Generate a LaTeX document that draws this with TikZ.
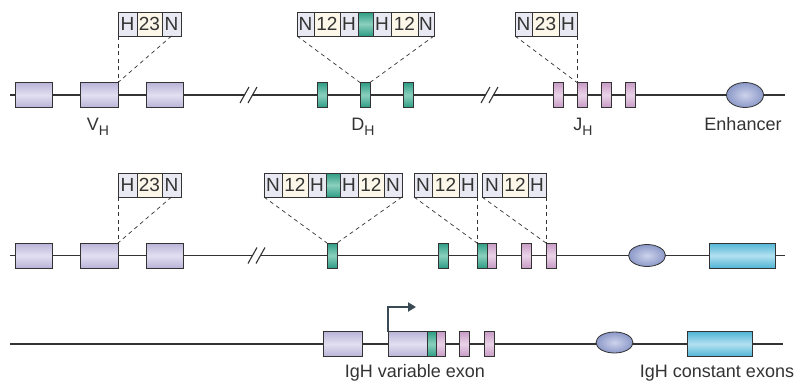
\documentclass[tikz,border=0pt]{standalone}
\usepackage{fontspec}
\setmainfont{Liberation Sans}
\usetikzlibrary{arrows.meta,shapes.geometric}
\definecolor{linec}{HTML}{333333}
\definecolor{vcol}{HTML}{B9B4D8}
\definecolor{vlight}{HTML}{E2DFF1}
\definecolor{dcol}{HTML}{2E9C84}
\definecolor{dlight}{HTML}{8AD0BE}
\definecolor{jcol}{HTML}{C79BC5}
\definecolor{jlight}{HTML}{EAD3E8}
\definecolor{ecol}{HTML}{8C99C8}
\definecolor{elight}{HTML}{CDD3EC}
\definecolor{ccol}{HTML}{4FB5D6}
\definecolor{clight}{HTML}{B3E0F0}
\definecolor{cellhn}{HTML}{E9E9F3}
\definecolor{cellnum}{HTML}{FCF7E8}
\definecolor{arrowc}{HTML}{3A4A55}
\definecolor{textc}{HTML}{333333}
\newcommand\brkmark[1]{\begin{scope}[shift={#1}]
 \fill[white] (-7.3,2.2)--(-4.7,-2.2)--(2.3,-2.2)--(-0.3,2.2)--cycle;
 \draw[dna] (-11,8)--(-2,-8); \draw[dna] (-3,8)--(6,-8);
 \end{scope}}
\tikzset{
 dna/.style={draw=linec, line width=1.1pt},
 seg/.style={draw=linec, line width=0.8pt, inner sep=0pt, outer sep=0pt, minimum height=25pt},
 vseg/.style={seg, top color=vcol, bottom color=vcol, middle color=vlight},
 dseg/.style={seg, top color=dcol, bottom color=dcol, middle color=dlight},
 jseg/.style={seg, top color=jcol, bottom color=jcol, middle color=jlight},
 cseg/.style={seg, top color=ccol, bottom color=ccol, middle color=clight},
 enh/.style={ellipse, draw=linec, line width=0.8pt, inner color=elight, outer color=ecol, inner sep=0pt, minimum width=37pt, minimum height=25pt},
 cell/.style={draw=linec, line width=0.7pt, inner sep=0pt, outer sep=0pt, minimum height=24pt, anchor=west, text=textc, font=\fontsize{19}{19}\selectfont},
 hn/.style={cell, fill=cellhn},
 num/.style={cell, fill=cellnum},
 tcell/.style={cell, top color=dcol, bottom color=dcol, middle color=dlight},
 lead/.style={draw=linec, line width=0.7pt, dash pattern=on 4pt off 3.5pt},
 lab/.style={text=textc, font=\fontsize{18}{20}\selectfont, inner sep=0pt},
}
\newcommand\subH{\raisebox{-0.5ex}{\fontsize{14}{14}\selectfont H}}
\begin{document}
\begin{tikzpicture}[x=1pt,y=-1pt]
\useasboundingbox (0,0) rectangle (796,383);
% ---------- Row 1 ----------
\coordinate (l1s) at (10,95);
\coordinate (l1e) at (785,95);
\draw[dna] (l1s) -- (l1e);
\brkmark{(251,95)}
\brkmark{(492,95)}
\node[vseg, minimum width=37pt] (v11) at (33.5,95) {};
\node[vseg, minimum width=38pt] (v12) at (99,95) {};
\node[vseg, minimum width=37pt] (v13) at (164.5,95) {};
\node[dseg, minimum width=10pt] (d11) at (322,95) {};
\node[dseg, minimum width=10pt] (d12) at (365,95) {};
\node[dseg, minimum width=10pt] (d13) at (408,95) {};
\node[jseg, minimum width=10pt] (j11) at (558,95) {};
\node[jseg, minimum width=10pt] (j12) at (582,95) {};
\node[jseg, minimum width=10pt] (j13) at (606,95) {};
\node[jseg, minimum width=10pt] (j14) at (630,95) {};
\node[enh] (e1) at (745,95) {};
\node[lab] (lv1) at (98,127) {V\subH};
\node[lab] (ld1) at (363,127) {D\subH};
\node[lab] (lj1) at (583,127) {J\subH};
\node[lab] (le1) at (743,124) {Enhancer};
% RSS boxes row 1
\node[hn, minimum width=19pt] (a1) at (118,24) {H};
\node[num, minimum width=25pt] (a2) at (a1.east) {23};
\node[hn, minimum width=19pt] (a3) at (a2.east) {N};
\draw[lead] (a1.south west) -- (v12.north east);
\draw[lead] (a3.south) -- (v12.north east);
\node[hn, minimum width=17pt] (b1) at (297,24) {N};
\node[num, minimum width=26pt] (b2) at (b1.east) {12};
\node[hn, minimum width=18pt] (b3) at (b2.east) {H};
\node[tcell, minimum width=15pt] (b4) at (b3.east) {};
\node[hn, minimum width=18pt] (b5) at (b4.east) {H};
\node[num, minimum width=27pt] (b6) at (b5.east) {12};
\node[hn, minimum width=16pt] (b7) at (b6.east) {N};
\draw[lead] (b1.south west) -- (d12.north west);
\draw[lead] (b7.south east) -- (d12.north east);
\node[hn, minimum width=17pt] (c1) at (515,24) {N};
\node[num, minimum width=27pt] (c2) at (c1.east) {23};
\node[hn, minimum width=18pt] (c3) at (c2.east) {H};
\draw[lead] (c1.south west) -- (j12.north west);
\draw[lead] (c3.south east) -- (j12.north west);
% ---------- Row 2 ----------
\coordinate (l2s) at (10,255.5);
\coordinate (l2e) at (785,255.5);
\draw[dna] (l2s) -- (l2e);
\brkmark{(259,255.5)}
\node[vseg, minimum width=37pt] (v21) at (33.5,255.5) {};
\node[vseg, minimum width=38pt] (v22) at (99,255.5) {};
\node[vseg, minimum width=37pt] (v23) at (164.5,255.5) {};
\node[dseg, minimum width=10pt] (d21) at (332,255.5) {};
\node[dseg, minimum width=10pt] (d22) at (443,255.5) {};
\node[dseg, minimum width=10pt] (d23) at (482,255.5) {};
\node[jseg, minimum width=9pt] (j21) at (491.5,255.5) {};
\node[jseg, minimum width=10pt] (j22) at (526,255.5) {};
\node[jseg, minimum width=10pt] (j23) at (551,255.5) {};
\node[enh, minimum height=22pt] (e2) at (647,255.5) {};
\node[cseg, minimum width=66pt] (k2) at (742,255.5) {};
\node[hn, minimum width=19pt] (f1) at (118,185) {H};
\node[num, minimum width=25pt] (f2) at (f1.east) {23};
\node[hn, minimum width=19pt] (f3) at (f2.east) {N};
\draw[lead] (f1.south west) -- (v22.north east);
\draw[lead] (f3.south) -- (v22.north east);
\node[hn, minimum width=18pt] (g1) at (264,185) {N};
\node[num, minimum width=26pt] (g2) at (g1.east) {12};
\node[hn, minimum width=18pt] (g3) at (g2.east) {H};
\node[tcell, minimum width=14pt] (g4) at (g3.east) {};
\node[hn, minimum width=18pt] (g5) at (g4.east) {H};
\node[num, minimum width=26pt] (g6) at (g5.east) {12};
\node[hn, minimum width=18pt] (g7) at (g6.east) {N};
\draw[lead] (g1.south west) -- (d21.north west);
\draw[lead] (g7.south east) -- (d21.north east);
\node[hn, minimum width=18pt] (h1) at (414,185) {N};
\node[num, minimum width=27pt] (h2) at (h1.east) {12};
\node[hn, minimum width=18pt] (h3) at (h2.east) {H};
\draw[lead] (h1.south west) -- (d23.north west);
\draw[lead] (h3.south east) -- (d23.north west);
\node[hn, minimum width=20pt] (i1) at (482,185) {N};
\node[num, minimum width=26pt] (i2) at (i1.east) {12};
\node[hn, minimum width=18pt] (i3) at (i2.east) {H};
\draw[lead] (i1.south west) -- (j23.north west);
\draw[lead] (i3.south east) -- (j23.north west);
% ---------- Row 3 ----------
\coordinate (l3s) at (10,344);
\coordinate (l3e) at (783,344);
\draw[dna] (l3s) -- (l3e);
\node[vseg, minimum width=39pt] (v31) at (342.5,344) {};
\node[vseg, minimum width=39pt] (v32) at (407.5,344) {};
\node[dseg, minimum width=9pt] (d31) at (431.5,344) {};
\node[jseg, minimum width=9pt] (j31) at (440.5,344) {};
\node[jseg, minimum width=10pt] (j32) at (464.5,344) {};
\node[jseg, minimum width=10pt] (j33) at (489,344) {};
\node[enh, minimum height=21pt] (e3) at (614.5,342.5) {};
\node[cseg, minimum width=65pt] (k3) at (719.5,344) {};
\coordinate (tss) at (416,307);
\draw[draw=arrowc, line width=2pt, -{Triangle[length=8pt,width=9pt]}] (v32.north west) |- (tss);
\node[lab] (lvar) at (415,373) {IgH variable exon};
\node[lab] (lcon) at (717,373) {IgH constant exons};
\end{tikzpicture}
\end{document}
